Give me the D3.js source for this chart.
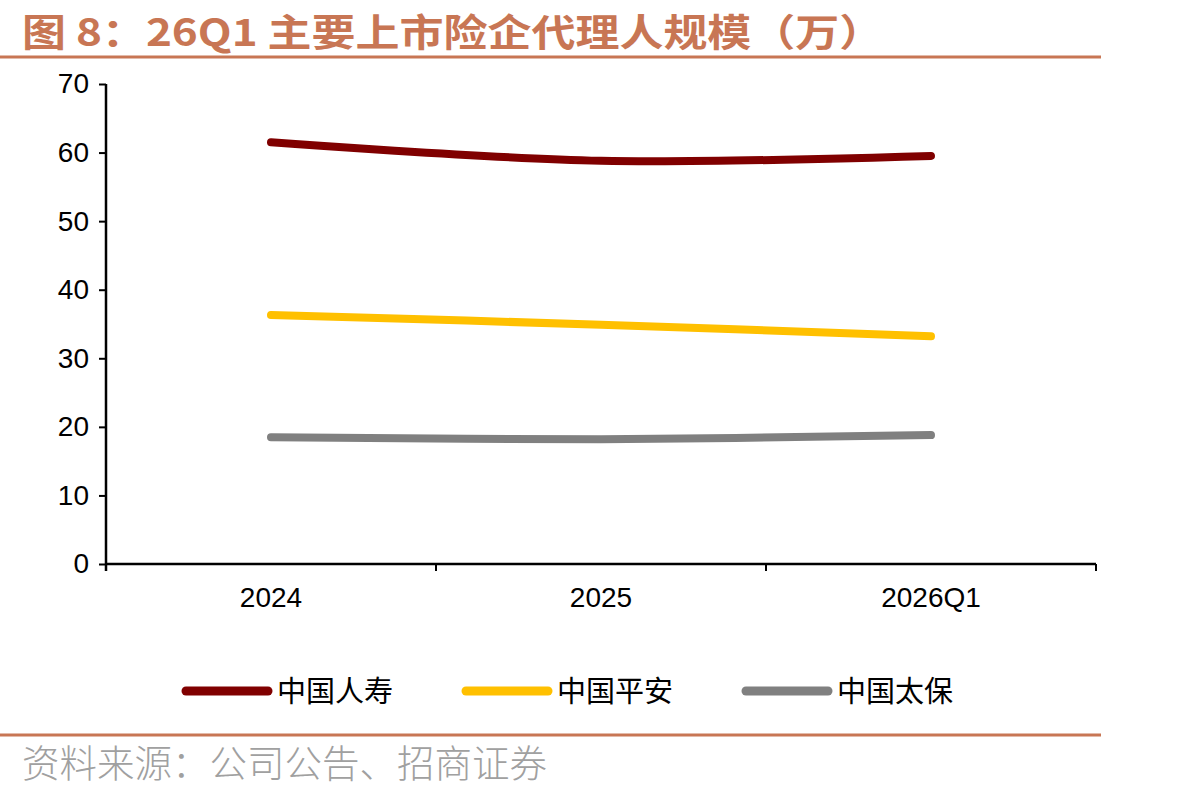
<!DOCTYPE html>
<html>
<head>
<meta charset="utf-8">
<script src="https://cdn.jsdelivr.net/npm/d3@7"></script>
<style>
  body { margin: 0; background: #fff; }
  svg { display: block; }
</style>
</head>
<body>
<svg id="chart" width="1187" height="795"></svg>
<script>
// data
var categories = ['2024', '2025', '2026Q1'];
var seriesNames = ['中国人寿', '中国平安', '中国太保'];
var lifeValues = [61.5, 58.8, 59.5];
var pinganValues = [36.3, 34.9, 33.2];
var cpicValues = [18.5, 18.2, 18.8];
var seriesColors = ['#800000', '#FFC000', '#808080'];
var yTicks = [0, 10, 20, 30, 40, 50, 60, 70];

var titleText = '图 8：26Q1 主要上市险企代理人规模（万）';
var sourceText = '资料来源：公司公告、招商证券';

var series = [lifeValues, pinganValues, cpicValues].map(function(v, i){
  return { name: seriesNames[i], color: seriesColors[i], values: v };
});

var svg = d3.select('#chart');
var accent = '#C87654';

// header
svg.append('text')
  .attr('transform', 'translate(22,46) scale(1,0.86)')
  .attr('fill', accent)
  .style('font-family', '"Noto Sans CJK SC", sans-serif')
  .style('font-weight', 'bold')
  .style('font-size', '44px')
  .text(titleText);

svg.append('line')
  .attr('x1', 0).attr('x2', 1101)
  .attr('y1', 57).attr('y2', 57)
  .attr('stroke', accent).attr('stroke-width', 3);

// plot area
var plotLeft = 106, plotRight = 1096, plotTop = 84, plotBottom = 564;

var x = d3.scaleBand().domain(categories).range([plotLeft, plotRight]);
var y = d3.scaleLinear().domain([0, 70]).range([plotBottom, plotTop]);

var yAxis = svg.append('g')
  .attr('transform', 'translate(' + plotLeft + ',0)')
  .call(d3.axisLeft(y).tickValues(yTicks).tickSize(7).tickSizeOuter(0).tickPadding(10));
yAxis.select('.domain').attr('stroke', '#000').attr('stroke-width', 2.5)
  .attr('d', 'M0,' + plotTop + 'V' + (plotBottom + 7));
yAxis.selectAll('.tick line').attr('stroke', '#000').attr('stroke-width', 2);
yAxis.selectAll('text')
  .style('font-family', '"Liberation Sans", Arial, sans-serif')
  .style('font-size', '28px').attr('fill', '#000');

var xAxis = svg.append('g')
  .attr('transform', 'translate(0,' + plotBottom + ')')
  .call(d3.axisBottom(x).tickSize(0).tickPadding(23));
xAxis.select('.domain').attr('stroke', '#000').attr('stroke-width', 2.5)
  .attr('d', 'M' + plotLeft + ',0H' + plotRight);
xAxis.selectAll('text')
  .style('font-family', '"Liberation Sans", Arial, sans-serif')
  .style('font-size', '28px').attr('fill', '#000');

// category separators below axis
svg.append('g').selectAll('line')
  .data(categories)
  .enter().append('line')
  .attr('x1', function(d){ return x(d) + x.bandwidth(); })
  .attr('x2', function(d){ return x(d) + x.bandwidth(); })
  .attr('y1', plotBottom).attr('y2', plotBottom + 7)
  .attr('stroke', '#000').attr('stroke-width', 2);

// lines (Excel-style smoothing)
var line = d3.line()
  .x(function(d, i){ return x(categories[i]) + x.bandwidth() / 2; })
  .y(function(d){ return y(d); })
  .curve(d3.curveCatmullRom.alpha(0));

svg.append('g').selectAll('path')
  .data(series)
  .enter().append('path')
  .attr('d', function(d){ return line(d.values); })
  .attr('fill', 'none')
  .attr('stroke', function(d){ return d.color; })
  .attr('stroke-width', 8)
  .attr('stroke-linecap', 'round')
  .attr('stroke-linejoin', 'round');

// legend
var legend = svg.append('g').selectAll('g')
  .data(series)
  .enter().append('g')
  .attr('transform', function(d, i){ return 'translate(' + (186 + i * 280) + ',691)'; });
legend.append('line')
  .attr('x1', 0).attr('x2', 82)
  .attr('stroke', function(d){ return d.color; })
  .attr('stroke-width', 9)
  .attr('stroke-linecap', 'round');
legend.append('text')
  .attr('x', 91).attr('y', 11)
  .style('font-family', '"Noto Sans CJK SC", sans-serif')
  .style('font-size', '29px')
  .attr('fill', '#000')
  .text(function(d){ return d.name; });

// footer
svg.append('line')
  .attr('x1', 0).attr('x2', 1101)
  .attr('y1', 735).attr('y2', 735)
  .attr('stroke', accent).attr('stroke-width', 3);

svg.append('text')
  .attr('x', 22).attr('y', 777)
  .attr('fill', '#A0A0A0')
  .style('font-family', '"Noto Sans CJK SC", sans-serif')
  .style('font-weight', 300)
  .style('font-size', '37.5px')
  .text(sourceText);
</script>
</body>
</html>
